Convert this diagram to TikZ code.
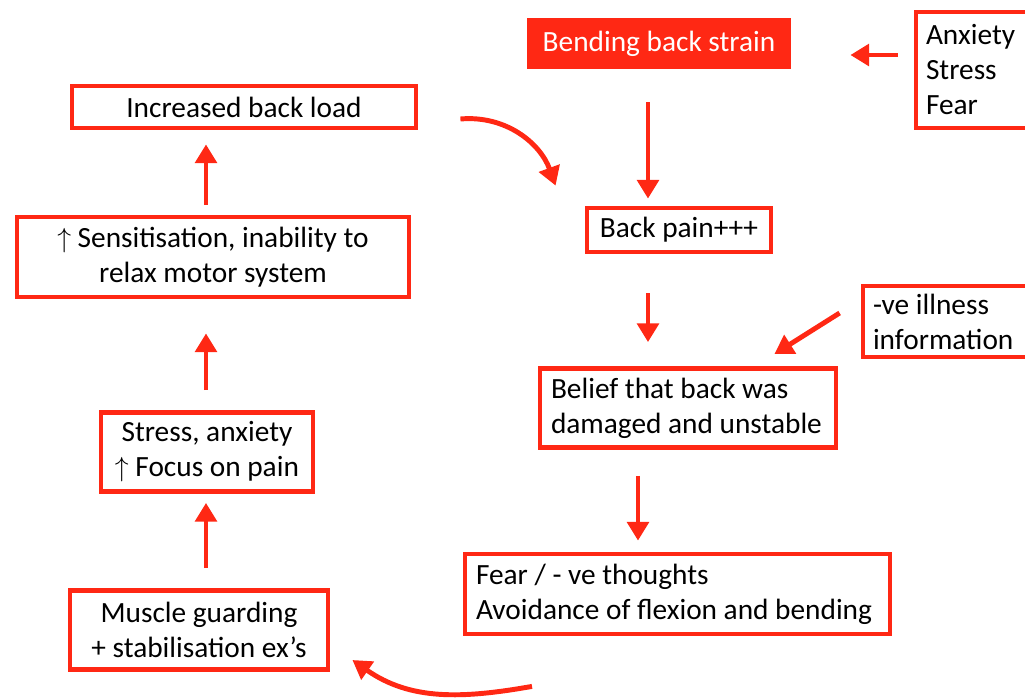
\documentclass[tikz,border=0pt]{standalone}
\usepackage{fontspec}
\setmainfont{Carlito}
\usepackage{tikz}
\usetikzlibrary{arrows.meta,positioning,calc}
\definecolor{pptred}{RGB}{255,40,20}

\begin{document}
\begin{tikzpicture}[x=0.75pt,y=-0.75pt,
  box/.style={draw=pptred,line width=3.6pt,inner xsep=8pt,inner ysep=0pt,
              align=center,font=\fontsize{22}{26.25}\selectfont},
  lbox/.style={box,align=flush left},
  ar/.style={-{Triangle[length=14pt,width=16pt]},draw=pptred,line width=3.7pt}]
\clip (0,0) rectangle (1025,697);
% right-hand chain
\node[box,fill=pptred,draw=none,text=white,minimum width=198pt,minimum height=38.25pt] (bend) at (659,43.5) {Bending back strain};
\node[lbox,inner xsep=7.5pt,text width=78pt,minimum height=87pt] (anx) at (978,70) {Anxiety\\Stress\\Fear};
\node[box,minimum width=138pt,minimum height=33pt] (pain) at (679,230) {Back pain+++};
\node[lbox,inner xsep=7.5pt,text width=117.75pt,minimum height=53.25pt] (ill) at (951.5,321.5) {-ve illness\\information};
\node[lbox,inner xsep=8.25pt,text width=205.5pt,minimum height=59.25pt] (belief) at (688,408) {Belief that back was\\damaged and unstable};
\node[lbox,inner xsep=8.25pt,text width=302.25pt,minimum height=60pt] (fear) at (677.5,594) {Fear / - ve thoughts\\Avoidance of flexion and bending};
% left-hand chain
\node[box,minimum width=193.5pt,minimum height=59.25pt] (muscle) at (199,630) {Muscle guarding\\+ stabilisation ex’s};
\node[box,minimum width=159pt,minimum height=59.25pt] (stress) at (207,452) {Stress, anxiety\\$\uparrow$ Focus on pain};
\node[box,minimum width=294pt,minimum height=60pt] (sens) at (213,257) {$\uparrow$ Sensitisation, inability to\\relax motor system};
\node[box,minimum width=258pt,minimum height=31.5pt] (load) at (244,107) {Increased back load};
% connectors
\draw[ar] ($(anx.west)+(-16,-15)$) -- ($(bend.east)+(57,11.5)$);
\draw[ar] ($(bend.south)+(-11,31)$) -- ($(pain.north)+(-31,-7)$);
\draw[ar] ($(pain.south)+(-31,39)$) -- ($(belief.north)+(-40,-24)$);
\draw[ar] ($(ill.west)+(-21,-8.5)$) -- ($(belief.north east)+(-64,-12)$);
\draw[ar] ($(belief.south)+(-50,26)$) -- ($(fear.north)+(-39.5,-11)$);
\draw[ar] ($(fear.south)+(-145.5,50)$) to[out=190,in=-35] ($(muscle.east)+(22,30)$);
\draw[ar] ($(muscle.north)+(7,-20)$) -- ($(stress.south)+(-1,9)$);
\draw[ar] ($(stress.north)+(-1,-20)$) -- ($(sens.south)+(-7,34)$);
\draw[ar] ($(sens.north)+(-7,-10)$) -- ($(load.south)+(-38,14)$);
\draw[ar] ($(load.east)+(42,12)$) to[out=5,in=110] ($(pain.north west)+(-29,-20)$);
\end{tikzpicture}
\end{document}
